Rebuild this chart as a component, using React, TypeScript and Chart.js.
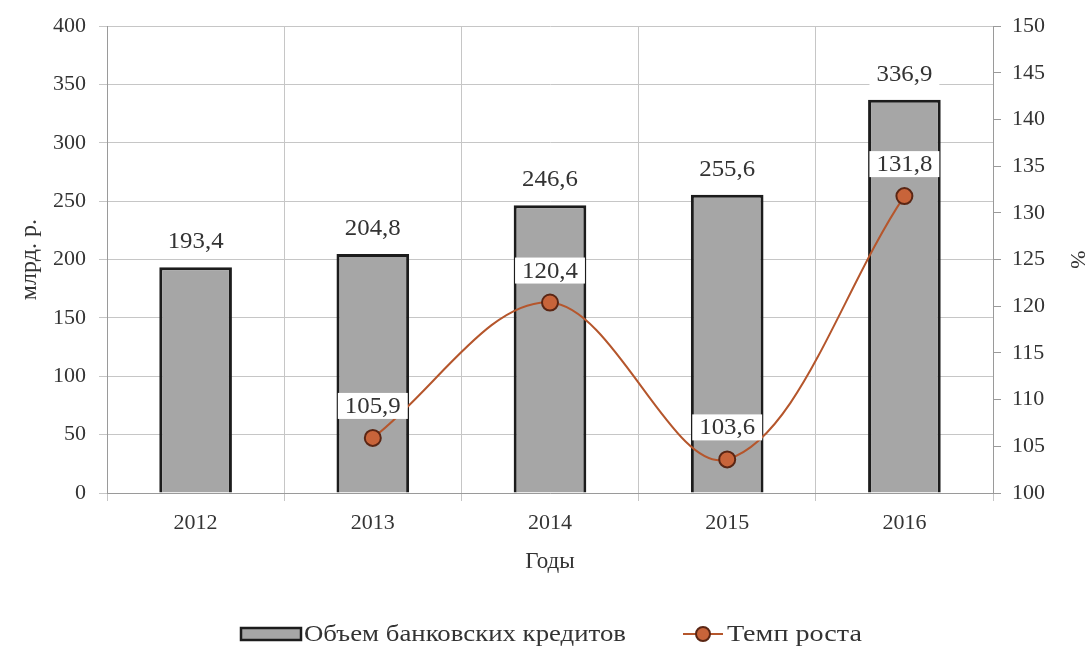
import React, { useEffect, useRef } from "react";
import { Chart, registerables } from "chart.js";

Chart.register(...registerables);

const years = ["2012", "2013", "2014", "2015", "2016"];
const creditVolume = [193.4, 204.8, 246.6, 255.6, 336.9];
const growthRate = [null, 105.9, 120.4, 103.6, 131.8];
const barLabel = "Объем банковских кредитов";
const lineLabel = "Темп роста";
const leftTitle = "млрд. р.";
const rightTitle = "%";
const xTitle = "Годы";

const FONT = "'Liberation Serif', 'Times New Roman', serif";
const TEXT = "#333333";
const BAR_FILL = "#a6a6a6";
const BAR_BORDER = "#1c1c1c";
const LINE = "#b5562c";
const POINT_FILL = "#c8643a";
const POINT_BORDER = "#5a2614";
const GRID = "#c6c6c6";

const fmt = (v: number) => v.toFixed(1).replace(".", ",");

const drawStretched = (ctx: any, text: string, x: number, y: number, sx: number, align: string) => {
  ctx.save();
  ctx.translate(x, y);
  ctx.scale(sx, 1);
  ctx.textAlign = align;
  ctx.fillText(text, 0, 0);
  ctx.restore();
};

const labelsPlugin = {
  id: "valueLabels",
  afterDatasetsDraw(chart: any) {
    const ctx = chart.ctx;
    ctx.save();
    ctx.font = `23px ${FONT}`;
    ctx.textBaseline = "middle";
    const sx = 1.08;
    chart.data.datasets.forEach((ds: any, i: number) => {
      const meta = chart.getDatasetMeta(i);
      meta.data.forEach((el: any, j: number) => {
        const v = ds.data[j];
        if (v === null || v === undefined) return;
        const text = fmt(v);
        const off = ds.type === "line" ? 32 : 26;
        const x = el.x;
        const y = el.y - off;
        const w = ctx.measureText(text).width * sx + 14;
        const h = 26;
        ctx.fillStyle = "#ffffff";
        ctx.fillRect(x - w / 2, y - h / 2, w, h);
        ctx.fillStyle = TEXT;
        drawStretched(ctx, text, x, y + 1, sx, "center");
      });
    });
    ctx.restore();
  },
};

const legendPlugin = {
  id: "customLegend",
  afterDraw(chart: any) {
    const ctx = chart.ctx;
    ctx.save();
    const y = 634;
    ctx.fillStyle = BAR_FILL;
    ctx.fillRect(241, y - 6, 60, 12);
    ctx.strokeStyle = BAR_BORDER;
    ctx.lineWidth = 2.5;
    ctx.strokeRect(241, y - 6, 60, 12);
    ctx.font = `23px ${FONT}`;
    ctx.fillStyle = TEXT;
    ctx.textBaseline = "middle";
    const w1 = ctx.measureText(barLabel).width;
    drawStretched(ctx, barLabel, 304, y + 1, 322 / w1, "left");
    ctx.strokeStyle = LINE;
    ctx.lineWidth = 2;
    ctx.beginPath();
    ctx.moveTo(683, y);
    ctx.lineTo(723, y);
    ctx.stroke();
    ctx.beginPath();
    ctx.arc(703, y, 7, 0, Math.PI * 2);
    ctx.fillStyle = POINT_FILL;
    ctx.fill();
    ctx.strokeStyle = POINT_BORDER;
    ctx.lineWidth = 2;
    ctx.stroke();
    ctx.fillStyle = TEXT;
    const w2 = ctx.measureText(lineLabel).width;
    drawStretched(ctx, lineLabel, 727, y + 1, 135 / w2, "left");
    ctx.restore();
  },
};

export default function App() {
  const ref = useRef<HTMLCanvasElement>(null);
  useEffect(() => {
    if (!ref.current) return;
    const chart = new Chart(ref.current, {
      type: "bar",
      data: {
        labels: years,
        datasets: [
          {
            type: "line",
            label: lineLabel,
            data: growthRate as any,
            yAxisID: "y1",
            borderColor: LINE,
            borderWidth: 2,
            tension: 0.35,
            pointRadius: 8,
            pointBackgroundColor: POINT_FILL,
            pointBorderColor: POINT_BORDER,
            pointBorderWidth: 2,
            order: 0,
          } as any,
          {
            type: "bar",
            label: barLabel,
            data: creditVolume,
            yAxisID: "y",
            backgroundColor: BAR_FILL,
            borderColor: BAR_BORDER,
            borderWidth: 3,
            categoryPercentage: 1,
            barPercentage: 0.41,
            order: 1,
          },
        ],
      },
      plugins: [labelsPlugin, legendPlugin],
      options: {
        animation: false,
        responsive: true,
        maintainAspectRatio: false,
        layout: { padding: { top: 26, bottom: 53, left: 0, right: 0 } },
        plugins: { legend: { display: false }, tooltip: { enabled: false } },
        scales: {
          x: {
            grid: { color: GRID, tickLength: 8, offset: true },
            border: { color: "#9a9a9a" },
            ticks: { color: TEXT, font: { family: FONT, size: 22 }, padding: 9 },
            title: { display: true, text: xTitle, color: TEXT, font: { family: FONT, size: 23 }, padding: { top: 0, bottom: 17 } },
            afterFit: (s: any) => { s.height = 100; },
          },
          y: {
            position: "left",
            min: 0,
            max: 400,
            ticks: { stepSize: 50, color: TEXT, font: { family: FONT, size: 22 }, padding: 13 },
            grid: { color: GRID, tickLength: 8 },
            border: { color: "#9a9a9a" },
            title: { display: true, text: leftTitle, color: TEXT, font: { family: FONT, size: 24 }, padding: { top: 15, bottom: 0 } },
            afterFit: (s: any) => { s.width = 107; },
          },
          y1: {
            position: "right",
            min: 100,
            max: 150,
            ticks: { stepSize: 5, color: TEXT, font: { family: FONT, size: 22 }, padding: 11 },
            grid: { drawOnChartArea: false, color: "#9a9a9a", tickLength: 8 },
            border: { color: "#9a9a9a" },
            title: { display: true, text: rightTitle, color: TEXT, font: { family: FONT, size: 22 }, padding: { top: 1, bottom: 0 } },
            afterFit: (s: any) => { s.width = 98; },
          },
        },
      },
    });
    return () => chart.destroy();
  }, []);
  return (
    <div style={{ position: "absolute", left: 0, top: 0, width: 1091, height: 646 }}>
      <canvas ref={ref} />
    </div>
  );
}
